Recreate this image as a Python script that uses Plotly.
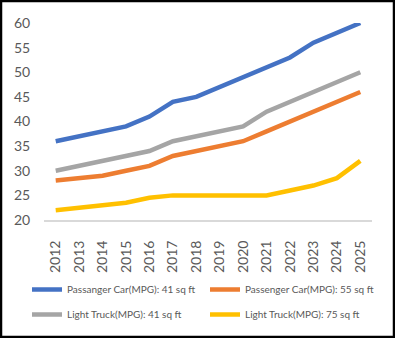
import plotly.graph_objects as go

years = [str(y) for y in range(2012, 2026)]
pc41 = [36, 37, 38, 39, 41, 44, 45, 47, 49, 51, 53, 56, 58, 60]
pc55 = [28, 28.5, 29, 30, 31, 33, 34, 35, 36, 38, 40, 42, 44, 46]
lt41 = [30, 31, 32, 33, 34, 36, 37, 38, 39, 42, 44, 46, 48, 50]
lt75 = [22, 22.5, 23, 23.5, 24.5, 25, 25, 25, 25, 25, 26, 27, 28.5, 32]

names = ["Passanger Car(MPG): 41 sq ft", "Passenger Car(MPG): 55 sq ft",
         "Light Truck(MPG): 41 sq ft", "Light Truck(MPG): 75 sq ft"]
series = [pc41, pc55, lt41, lt75]
colors = ["#4472C4", "#ED7D31", "#A5A5A5", "#FFC000"]
legends = ["legend", "legend", "legend2", "legend2"]

W, H = 395, 338
ml, mr, mt, mb = 44, 23, 23, 118
pw, ph = W - ml - mr, H - mt - mb

fig = go.Figure()
for n, s, c, lg in zip(names, series, colors, legends):
    fig.add_trace(go.Scatter(x=years, y=s, name=n, mode="lines",
                             line=dict(color=c, width=4.5), legend=lg))

def px(x):
    return (x - ml) / pw

def py(y):
    return (H - mb - y) / ph

font = "Lato, Liberation Sans, sans-serif"
fig.update_layout(
    template="none",
    width=W, height=H, margin=dict(l=ml, r=mr, t=mt, b=mb, autoexpand=False),
    paper_bgcolor="white", plot_bgcolor="white",
    font=dict(family=font, color="#595959"),
    xaxis=dict(type="category", range=[-0.5, 13.5], showgrid=False, automargin=False,
               showline=True, linecolor="#D9D9D9", linewidth=2,
               tickangle=-90, tickfont=dict(size=14, color="#595959"),
               ticks="outside", ticklen=13, tickcolor="rgba(0,0,0,0)", zeroline=False),
    yaxis=dict(range=[20, 60], dtick=5, showgrid=False, zeroline=False, automargin=False,
               showline=False,
               tickfont=dict(size=14, color="#595959"),
               ticks="outside", ticklen=10, tickcolor="rgba(0,0,0,0)"),
    legend=dict(orientation="h", x=px(27), y=py(275), xanchor="left", yanchor="top",
                font=dict(size=10, color="#595959"), entrywidth=133,
                entrywidthmode="pixels", bgcolor="rgba(0,0,0,0)"),
    legend2=dict(orientation="h", x=px(27), y=py(300), xanchor="left", yanchor="top",
                 font=dict(size=10, color="#595959"), entrywidth=133,
                 entrywidthmode="pixels", bgcolor="rgba(0,0,0,0)"),
    shapes=[dict(type="rect", xref="paper", yref="paper",
                 x0=px(1), x1=px(W - 1), y0=py(H - 1), y1=py(1),
                 line=dict(color="black", width=2.5), layer="above")],
)

fig.write_html("out.html")
